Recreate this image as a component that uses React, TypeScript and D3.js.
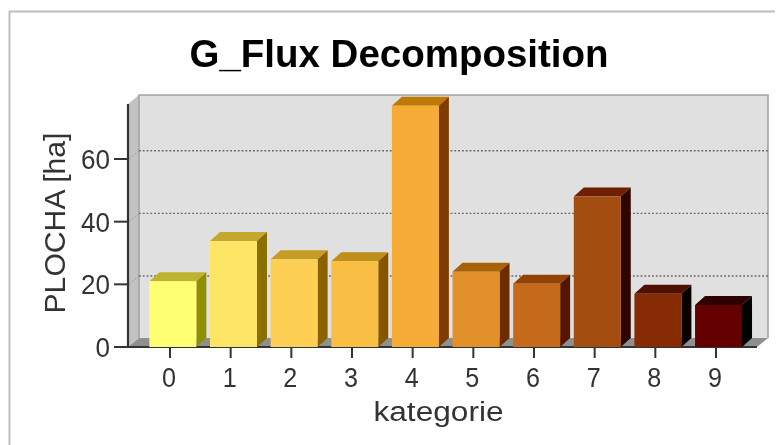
import React from "react";
import * as d3 from "d3";

const categories = ["0", "1", "2", "3", "4", "5", "6", "7", "8", "9"];
const values = [21, 33.8, 28, 27.4, 77, 24, 20.2, 48, 17, 13.4];
const frontColors = ["#ffff73", "#ffe566", "#fdd055", "#f9bf45", "#f5ab35", "#e2912a", "#c56a1a", "#a44d11", "#872b05", "#650000"];
const topColors = ["#bdb52c", "#c4a82f", "#c69c24", "#c08e1a", "#bf7a05", "#a86208", "#934205", "#6f1f02", "#4f1000", "#2f0000"];
const sideColors = ["#8f8f00", "#8a6f00", "#8a6200", "#875500", "#7e3c00", "#6c2c00", "#551500", "#2f0500", "#0a0000", "#000000"];
const yTicks = [0, 20, 40, 60];

const W = 780, H = 445;
const dx = 10, dy = 9;
const floorY = 347;
const y = d3.scaleLinear().domain([0, 60]).range([floorY, 159]);
const x = d3.scaleBand().domain(categories).range([142.7, 748.7]).paddingInner(0.225).paddingOuter(0.11);
const tickX = d3.scalePoint().domain(categories).range([170, 716]);
const left = 128, right = 757, top = 104;
const font = "'Liberation Sans', Arial, sans-serif";
const poly = (pts: number[][]) => pts.map((p) => p.join(",")).join(" ");

export default function App() {
  return (
    <svg width={W} height={H} style={{ position: "fixed", left: 0, top: 0, background: "#fff", filter: "blur(0.7px)" }}>
      <path d="M9.5 445V11.5H775" fill="none" stroke="#bdbdbd" strokeWidth={2} />
      <text x={399} y={67} textAnchor="middle" fontFamily={font} fontWeight="bold" fontSize={38} textLength={419} lengthAdjust="spacingAndGlyphs" fill="#000">G_Flux Decomposition</text>

      <polygon points={poly([[left + dx + 1, top - dy], [right + dx + 1, top - dy], [right + dx + 1, floorY - dy], [left + dx + 1, floorY - dy]])} fill="#e0e0e0" />
      <polygon points={poly([[left, top], [left + dx + 1, top - dy], [left + dx + 1, floorY - dy], [left, floorY]])} fill="#c2c2c2" />
      <polygon points={poly([[left, floorY], [left + dx + 1, floorY - dy], [right + dx + 1, floorY - dy], [right, floorY]])} fill="#8f8f8f" />
      <path d={`M${left + dx + 1} ${floorY - dy}V${top - dy}H${right + dx + 1}V${floorY - dy}`} fill="none" stroke="#a3a3a3" strokeWidth={1.6} />

      {yTicks.filter((t) => t > 0).map((t) => (
        <g key={t}>
          <line x1={left + dx + 1} x2={right + dx + 1} y1={y(t) - dy + 0.7} y2={y(t) - dy + 0.7} stroke="#666" strokeWidth={1.4} strokeDasharray="1.8 2" />
          <line x1={left + 1} x2={left + dx + 1} y1={y(t)} y2={y(t) - dy + 0.7} stroke="#999" strokeWidth={1} strokeDasharray="1.8 2" />
        </g>
      ))}

      <line x1={left} x2={left} y1={top} y2={floorY + 1} stroke="#333" strokeWidth={2.2} />
      <line x1={left} x2={right} y1={floorY} y2={floorY} stroke="#333" strokeWidth={2} />

      {categories.map((c, i) => {
        const x0 = x(c)!, w = x.bandwidth(), yt = y(values[i]);
        return (
          <g key={c}>
            <polygon points={poly([[x0, yt], [x0 + dx, yt - dy], [x0 + w + dx, yt - dy], [x0 + w, yt]])} fill={topColors[i]} />
            <polygon points={poly([[x0 + w, yt], [x0 + w + dx, yt - dy], [x0 + w + dx, floorY - dy], [x0 + w, floorY]])} fill={sideColors[i]} />
            <rect x={x0} y={yt} width={w} height={floorY - yt} fill={frontColors[i]} />
          </g>
        );
      })}

      {yTicks.map((t) => (
        <g key={t}>
          <line x1={114} x2={left} y1={y(t)} y2={y(t)} stroke="#333" strokeWidth={2} />
          <text x={110} y={y(t) + 10} textAnchor="end" fontFamily={font} fontSize={27} textLength={String(t).length * 14.5} lengthAdjust="spacingAndGlyphs" fill="#333">{t}</text>
        </g>
      ))}
      {categories.map((c) => (
        <g key={c}>
          <line x1={tickX(c)!} x2={tickX(c)!} y1={floorY} y2={358} stroke="#333" strokeWidth={2} />
          <text x={tickX(c)! - 1} y={387} textAnchor="middle" fontFamily={font} fontSize={27} textLength={14} lengthAdjust="spacingAndGlyphs" fill="#333">{c}</text>
        </g>
      ))}
      <text x={438.5} y={421} textAnchor="middle" fontFamily={font} fontSize={27} textLength={130} lengthAdjust="spacingAndGlyphs" fill="#333">kategorie</text>
      <text transform="translate(65,223) rotate(-90)" textAnchor="middle" fontFamily={font} fontSize={29.5} textLength={181} lengthAdjust="spacingAndGlyphs" fill="#333">PLOCHA [ha]</text>
    </svg>
  );
}
